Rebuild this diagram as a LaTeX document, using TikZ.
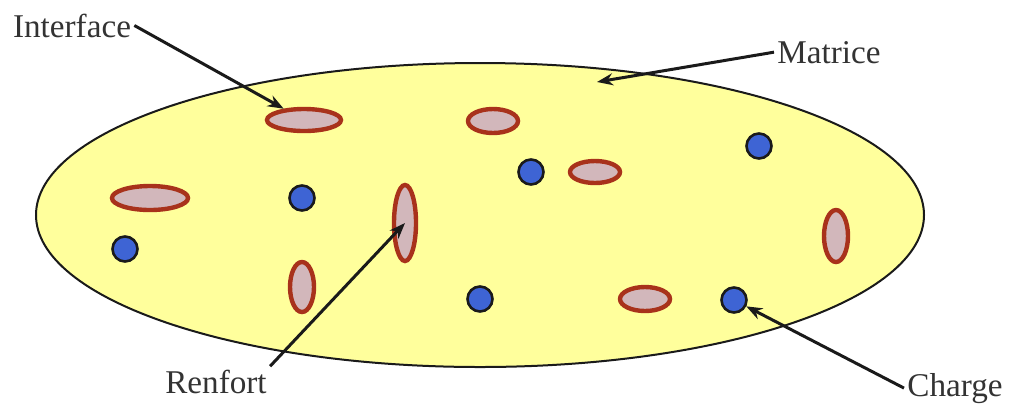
\documentclass[tikz,border=0pt]{standalone}
\usepackage{fontspec}
\setmainfont{Liberation Serif}
\usetikzlibrary{arrows.meta,positioning,shapes.geometric}
\definecolor{matrixyellow}{HTML}{FFFF9C}
\definecolor{fibregray}{HTML}{D2B7BB}
\definecolor{interred}{HTML}{A8321B}
\definecolor{chargeblue}{HTML}{3E64D4}
\definecolor{inkdark}{HTML}{1A1A1A}
\definecolor{textgray}{HTML}{333333}
\tikzset{
  matrixbody/.style={ellipse, draw=inkdark, fill=matrixyellow, line width=1pt, inner sep=0pt},
  % reinforcement with its interface ring
  fibre/.style={ellipse, draw=interred, fill=fibregray, line width=2.2pt, inner sep=0pt},
  filler/.style={circle, draw=inkdark, fill=chargeblue, line width=1.3pt,
    inner sep=0pt, minimum size=12.5pt},
  lbl/.style={font=\fontsize{16.6}{20}\selectfont, text=textgray, inner sep=1.5pt, anchor=base},
  pointer/.style={-{Stealth[length=8pt,width=6pt]}, line width=1.5pt, color=inkdark},
}
\begin{document}
\begin{tikzpicture}[x=0.5pt,y=-0.5pt]
  \useasboundingbox (0,0) rectangle (1011,403);
  % matrix
  \node[matrixbody, minimum width=444pt, minimum height=152pt] (M) at (480,215) {};
  % reinforcements
  \foreach \n/\x/\y/\w/\h in {r1/304/120/37/11, r2/493/121/25/12, r3/595/172/25/11,
      r4/150/198/38/12, r5/405/223/11/38, r6/836/236/12/26, r7/302/287/12/25, r8/645/299/25/12} {
    \node[fibre, minimum width=\w pt, minimum height=\h pt] (\n) at (\x,\y) {};
  }
  % fillers
  \foreach \n/\x/\y in {c1/302/198, c2/125/249, c3/531/172, c4/759/146, c5/480/299, c6/734/300} {
    \node[filler] (\n) at (\x,\y) {};
  }
  % labels
  \node[lbl] (lInt) at (72,37) {Interface};
  \node[lbl] (lMat) at (829,63) {Matrice};
  \node[lbl] (lRen) at (216,393) {Renfort};
  \node[lbl] (lCha) at (955,396) {Charge};
  \coordinate (mpt) at (597,82);
  \draw[pointer] (lInt.east) -- (r1);
  \draw[pointer] (lMat.west) -- (mpt);
  \draw[pointer] (lRen.north east) -- (r5.center);
  \draw[pointer] (lCha.west) -- (c6);
\end{tikzpicture}
\end{document}
